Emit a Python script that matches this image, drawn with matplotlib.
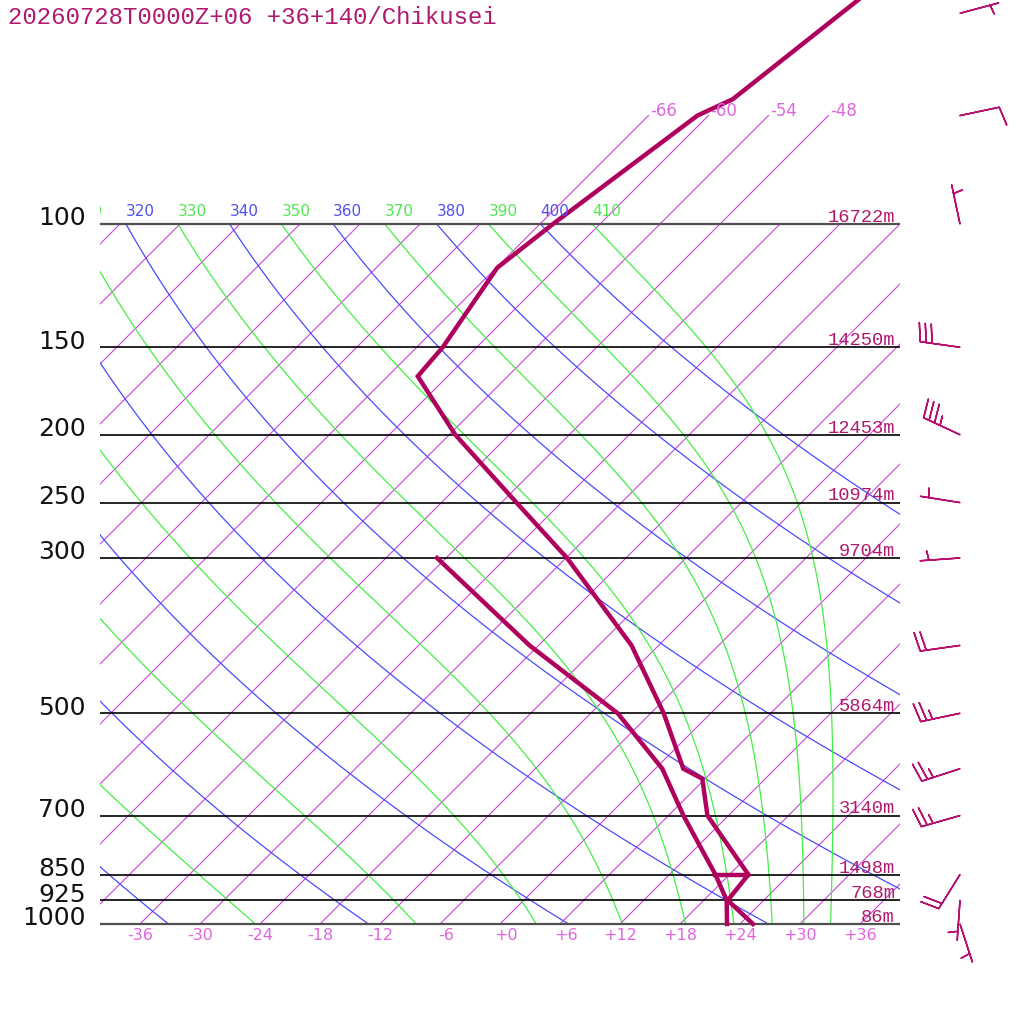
import numpy as np
import matplotlib
matplotlib.use("Agg")
import matplotlib.pyplot as plt
from matplotlib.patches import Rectangle

# ---------------- data ----------------
TITLE = "20260728T0000Z+06 +36+140/Chikusei"

grid_p = [1000, 925, 850, 700, 500, 300, 250, 200, 150, 100]
grid_labels = ["1000", "925", "850", "700", "500", "300", "250", "200", "150", "100"]
height_labels = ["86m", "768m", "1498m", "3140m", "5864m", "9704m",
                 "10974m", "12453m", "14250m", "16722m"]

temp_ticks = [-36, -30, -24, -18, -12, -6, 0, 6, 12, 18, 24, 30, 36]
temp_tick_labels = ["-36", "-30", "-24", "-18", "-12", "-6", "+0", "+6",
                    "+12", "+18", "+24", "+30", "+36"]

isotherms = list(range(-108, 37, 6))
top_isotherms = [-66, -60, -54, -48]
top_isotherm_labels = ["-66", "-60", "-54", "-48"]

dry_thetas = [240, 260, 280, 300, 320, 340, 360, 380, 400]
dry_label_thetas = [320, 340, 360, 380, 400]
moist_thetas = [250, 270, 290, 310, 330, 350, 370, 390, 410]
moist_label_thetas = [310, 330, 350, 370, 390, 410]

# temperature profile (hPa, degC)
t_p = [1000, 925, 850, 700, 620, 600, 500, 400, 300, 250, 200, 165, 150,
       115.5, 100, 70, 66.3, 45]
t_c = [25.3, 20.4, 19.9, 9.9, 5.7, 2.8, -4.7, -14.7, -29.9, -40.5, -53.4,
       -63.0, -63.4, -65.9, -64.7, -61.1, -59.2, -56.1]
# dew point profile
td_p = [1000, 925, 850, 700, 600, 500, 400, 300]
td_c = [22.7, 20.3, 16.6, 7.5, 0.7, -9.3, -24.9, -42.9]

# winds
wind_p = [1000, 925, 850, 700, 600, 500, 400, 300, 250, 200, 150, 100, 70, 50]
wind_dir = [162, 184, 212, 254, 252, 258, 262, 266, 279, 295, 278, 348, 78, 75]
wind_kt = [5, 5, 20, 25, 25, 25, 20, 5, 5, 35, 30, 5, 10, 5]

# ---------------- style ----------------
C_ISO = "#cc44dd"
C_ISO_LAB = "#e066e0"
C_DRY = "#4a4aff"
C_MOIST = "#44ee44"
C_PROF = "#b0005e"
C_TEXT = "#b0186e"
SKEW = 70.0
KAPPA = 0.2857

def skx(t, p):
    return np.asarray(t, float) + SKEW * np.log10(1000.0 / np.asarray(p, float))

# moist adiabat physics
Rd, Cp, Lv, EPS = 287.04749, 1004.6662, 2.50084e6, 0.621957

def es(T):
    return 6.112 * np.exp(17.67 * (T - 273.15) / (T - 29.65))

def dTdp(p, T):
    e = es(T)
    rs = EPS * e / (p - e)
    return (Rd * T + Lv * rs) / (Cp + Lv * Lv * rs * EPS / (Rd * T * T)) / p

def moist_line(theta):
    p = np.linspace(100.0, 1000.0, 451)
    T = np.empty_like(p)
    T[0] = theta * (p[0] / 1000.0) ** KAPPA
    for i in range(len(p) - 1):
        h = p[i + 1] - p[i]
        k1 = dTdp(p[i], T[i])
        k2 = dTdp(p[i] + h / 2, T[i] + h / 2 * k1)
        k3 = dTdp(p[i] + h / 2, T[i] + h / 2 * k2)
        k4 = dTdp(p[i] + h, T[i] + h * k3)
        T[i + 1] = T[i] + h / 6 * (k1 + 2 * k2 + 2 * k3 + k4)
    return p, T - 273.15

# ---------------- figure ----------------
fig = plt.figure(figsize=(10.24, 10.24), dpi=100)
ax = fig.add_axes([0, 0, 1, 1])
ax.set_yscale("log")
ax.set_xlim(-50, 52.4)
ax.set_ylim(1000 * 10 ** (100 / 700), 1000 * 10 ** (-924 / 700))
ax.axis("off")

clip_box = Rectangle((-40, 100), 80, 900, transform=ax.transData)
clip_tall = Rectangle((-40, 40), 80, 960, transform=ax.transData)

pp = np.geomspace(1000, 100, 200)

# isotherms
for t in isotherms:
    if t in top_isotherms:
        pl = np.geomspace(1000, 70, 200)
        ln, = ax.plot(skx(t, pl), pl, color=C_ISO, lw=0.8)
        ln.set_clip_path(clip_tall)
    else:
        ln, = ax.plot(skx(t, pp), pp, color=C_ISO, lw=0.8)
        ln.set_clip_path(clip_box)
for t, lab in zip(top_isotherms, top_isotherm_labels):
    ax.annotate(lab, xy=(skx(t, 70), 70), xytext=(1, 3), textcoords="offset points",
                ha="left", va="center", fontsize=12, color=C_ISO_LAB,
                family="DejaVu Sans")

# dry adiabats
for th in dry_thetas:
    tc = th * (pp / 1000.0) ** KAPPA - 273.15
    ln, = ax.plot(skx(tc, pp), pp, color=C_DRY, lw=0.9)
    ln.set_clip_path(clip_box)
for th in dry_label_thetas:
    tc = th * (100 / 1000.0) ** KAPPA - 273.15
    tx = ax.annotate(str(th), xy=(skx(tc, 100), 100), xytext=(0, 3.5),
                     textcoords="offset points", ha="left", va="bottom",
                     fontsize=11, color="#5050f0", family="DejaVu Sans")
    tx.set_clip_path(clip_tall)

# moist adiabats
for th in moist_thetas:
    pm, tm = moist_line(th)
    ln, = ax.plot(skx(tm, pm), pm, color=C_MOIST, lw=0.9)
    ln.set_clip_path(clip_box)
for th in moist_label_thetas:
    tc = th * (100 / 1000.0) ** KAPPA - 273.15
    tx = ax.annotate(str(th), xy=(skx(tc, 100), 100), xytext=(0, 3.5),
                     textcoords="offset points", ha="left", va="bottom",
                     fontsize=11, color="#50e850", family="DejaVu Sans")
    tx.set_clip_path(clip_tall)

# pressure lines + labels
for p, lab, hl in zip(grid_p, grid_labels, height_labels):
    edge = p in (1000, 100)
    ax.plot([-40, 40], [p, p], color="#505050" if edge else "black",
            lw=1.6 if edge else 1.2, solid_capstyle="butt")
    ax.annotate(lab, xy=(-41.4, p), xytext=(0, -1), textcoords="offset points",
                ha="right", va="baseline", fontsize=18, color="#111111",
                family="DejaVu Sans")
    ax.annotate(hl, xy=(39.5, p), xytext=(0, 1.5), textcoords="offset points",
                ha="right", va="baseline", fontsize=13.5, color=C_TEXT,
                family="Liberation Mono")

# bottom temperature labels
for t, lab in zip(temp_ticks, temp_tick_labels):
    dx = 4.3 if len(lab) == 2 else 0
    ax.annotate(lab, xy=(t, 1000), xytext=(dx, -8.6), textcoords="offset points",
                ha="center", va="center", fontsize=11.5, color=C_ISO_LAB,
                family="DejaVu Sans")

# profiles
ax.plot(skx(t_c, t_p), t_p, color=C_PROF, lw=3.2, solid_joinstyle="miter")
ax.plot(skx(td_c, td_p), td_p, color=C_PROF, lw=3.2, solid_joinstyle="miter")
ax.plot(skx([td_c[2], t_c[2]], [850, 850]), [850, 850], color=C_PROF, lw=3.2)

# wind barbs
wd = np.radians(wind_dir)
u = -np.array(wind_kt) * np.sin(wd)
v = -np.array(wind_kt) * np.cos(wd)
ax.barbs(np.full(len(wind_p), 46.0), wind_p, u, v, length=7.6,
         barbcolor="#b8106e", flagcolor="#b8106e", linewidth=1.1,
         sizes=dict(spacing=0.15, height=0.47, width=0.18),
         barb_increments=dict(half=5, full=10, flag=50), clip_on=False)

fig.text(8 / 1024, 1 - 17 / 1024, TITLE, ha="left", va="center",
         fontsize=17.3, color=C_TEXT, family="Liberation Mono")

fig.savefig("out.png", dpi=100)
